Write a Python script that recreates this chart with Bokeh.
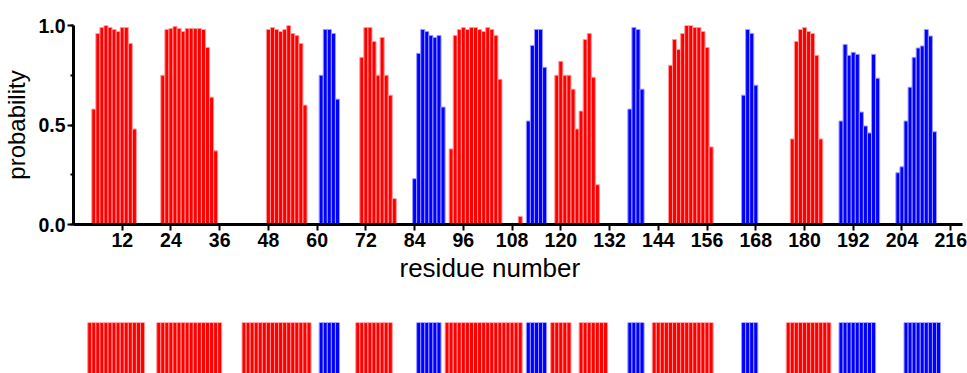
from bokeh.plotting import figure
from bokeh.layouts import column
from bokeh.models import Range1d, BasicTicker, PrintfTickFormatter, Title
from bokeh.embed import file_html
from bokeh.resources import INLINE

# ---- data: per-residue probability (top panel) ----
helix_residues = (list(range(5, 16)) + list(range(22, 36)) + list(range(48, 58)) +
                  list(range(71, 80)) + list(range(93, 106)) + [110] +
                  list(range(119, 130)) + list(range(147, 158)) + list(range(177, 185)))
helix_prob = [0.58, 0.96, 0.99, 1.00, 0.99, 0.98, 0.97, 0.99, 0.99, 0.91, 0.48,
              0.75, 0.98, 0.985, 0.995, 0.985, 0.97, 0.985, 0.985, 0.985, 0.985, 0.98, 0.89, 0.64, 0.37,
              0.98, 0.99, 0.98, 0.97, 0.98, 1.00, 0.96, 0.95, 0.91, 0.60,
              0.84, 0.99, 0.99, 0.92, 0.75, 0.94, 0.75, 0.65, 0.13,
              0.38, 0.95, 0.98, 0.99, 0.98, 0.99, 0.99, 0.98, 0.97, 0.99, 0.98, 0.95, 0.73,
              0.04,
              0.75, 0.82, 0.75, 0.75, 0.68, 0.48, 0.57, 0.93, 0.96, 0.74, 0.20,
              0.80, 0.93, 0.88, 0.96, 1.00, 1.00, 0.99, 0.99, 0.97, 0.89, 0.39,
              0.43, 0.92, 0.98, 0.99, 0.97, 0.96, 0.85, 0.43]

strand_residues = (list(range(61, 66)) + list(range(84, 92)) + list(range(112, 117)) +
                   list(range(137, 141)) + list(range(165, 169)) + list(range(189, 199)) +
                   list(range(203, 213)))
strand_prob = [0.75, 0.98, 0.98, 0.96, 0.63,
               0.23, 0.86, 0.98, 0.97, 0.95, 0.94, 0.95, 0.59,
               0.52, 0.90, 0.98, 0.98, 0.79,
               0.58, 0.99, 0.98, 0.68,
               0.65, 0.98, 0.96, 0.70,
               0.52, 0.905, 0.85, 0.865, 0.855, 0.565, 0.495, 0.46, 0.855, 0.735,
               0.26, 0.29, 0.52, 0.69, 0.84, 0.887, 0.897, 0.98, 0.947, 0.466]

# ---- data: assigned secondary structure strip (bottom panel), segment bounds ----
strip_helix_start = [4, 21, 42, 70, 92, 118, 125, 143, 176]
strip_helix_end = [17, 36, 58, 78, 110, 122, 131, 157, 186]
strip_strand_start = [61, 85, 112, 137, 165, 189, 205]
strip_strand_end = [65, 90, 116, 140, 168, 197, 213]

x_tick_step = 12
y_tick_step = 0.5
x_title = "residue number"
y_title = "probability"

RED = "#ff0000"
BLUE = "#0000ff"
RED_EDGE = "#ff9a9a"
BLUE_EDGE = "#9a9aff"
FONT = "Liberation Sans"

x_range = Range1d(0.001, 218.9)

p = figure(width=967, height=292, x_range=x_range, y_range=Range1d(0, 1.0),
           output_backend="svg", toolbar_location=None,
           min_border_left=72, min_border_right=5, min_border_top=25, min_border_bottom=68)
p.outline_line_color = None
p.border_fill_color = None
p.background_fill_color = None
p.xgrid.grid_line_color = None
p.ygrid.grid_line_color = None

p.vbar(x=helix_residues, top=helix_prob, bottom=0, width=1.0,
       fill_color=RED, line_color=RED_EDGE, line_width=1)
p.vbar(x=strand_residues, top=strand_prob, bottom=0, width=1.0,
       fill_color=BLUE, line_color=BLUE_EDGE, line_width=1)

p.xaxis.ticker = BasicTicker(mantissas=[1.2], base=10, desired_num_ticks=18,
                             min_interval=x_tick_step, max_interval=x_tick_step, num_minor_ticks=0)
p.yaxis.ticker = BasicTicker(mantissas=[5], base=10, desired_num_ticks=3,
                             min_interval=y_tick_step, max_interval=y_tick_step, num_minor_ticks=2)
p.yaxis.formatter = PrintfTickFormatter(format="%.1f")

p.axis.axis_line_width = 3
p.axis.axis_line_color = "black"
p.axis.major_tick_line_color = "black"
p.axis.minor_tick_line_color = "black"
p.axis.major_tick_line_width = 2
p.axis.minor_tick_line_width = 2
p.axis.major_tick_in = 0
p.axis.major_tick_out = 6
p.axis.minor_tick_in = 0
p.axis.minor_tick_out = 3
p.axis.major_label_text_font_style = "bold"
p.axis.major_label_text_font_size = "19.5px"
p.axis.major_label_text_color = "black"
p.xaxis.major_label_standoff = 2
p.yaxis.major_label_standoff = 2

p.yaxis.axis_label = y_title
p.yaxis.axis_label_text_font = FONT
p.yaxis.axis_label_text_font_style = "normal"
p.yaxis.axis_label_text_font_size = "24px"
p.yaxis.axis_label_text_color = "black"
p.yaxis.axis_label_standoff = 5

p.add_layout(Title(text=x_title, align="left", offset=326, standoff=3,
                   text_font=FONT, text_font_style="normal", text_font_size="26px",
                   text_color="black"), "below")

# ---- bottom strip ----
s = figure(width=967, height=81, x_range=x_range, y_range=Range1d(0, 1.0),
           output_backend="svg", toolbar_location=None,
           x_axis_location=None, y_axis_location=None,
           min_border_left=72, min_border_right=5, min_border_top=30, min_border_bottom=0)
s.outline_line_color = None
s.grid.grid_line_color = None

strip_helix_x = [r for a, b in zip(strip_helix_start, strip_helix_end) for r in range(a, b + 1)]
strip_strand_x = [r for a, b in zip(strip_strand_start, strip_strand_end) for r in range(a, b + 1)]
s.vbar(x=strip_helix_x, top=1, bottom=0, width=1.0,
       fill_color=RED, line_color=RED_EDGE, line_width=1)
s.vbar(x=strip_strand_x, top=1, bottom=0, width=1.0,
       fill_color=BLUE, line_color=BLUE_EDGE, line_width=1)

layout = column(p, s)
open("out.html", "w").write(file_html(layout, INLINE))
